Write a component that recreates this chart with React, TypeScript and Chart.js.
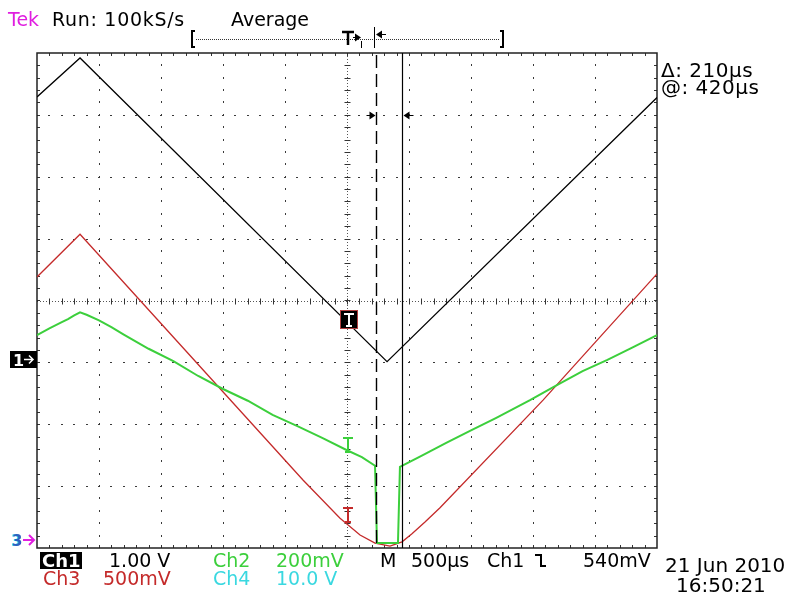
import { useEffect, useRef } from "react";
import { Chart, registerables } from "chart.js";

Chart.register(...registerables);

// Time axis in µs relative to screen centre (500 µs/div, 10 div), vertical in divisions (8 div)
const xMin = -2500;
const xMax = 2500;
const yMin = -4;
const yMax = 4;

// Ch1 (black) triangle wave
const ch1Time = [-2500, -2153, 323, 2500];
const ch1Div = [3.29, 3.92, -0.99, 3.28];

// Ch3 (red)
const ch3Time = [-2500, -2153, -355, -56, 105, 226, 347, 444, 524, 629, 750, 1581, 2500];
const ch3Div = [0.38, 1.07, -2.9, -3.52, -3.79, -3.92, -3.97, -3.9, -3.77, -3.58, -3.35, -1.61, 0.43];

// Ch2 (green, noisy)
const ch2Time = [-2500, -2400, -2300, -2250, -2200, -2153, -2100, -2000, -1900, -1800, -1600, -1400, -1200, -1000, -800, -600, -400, -200, 0, 120, 226, 242, 411, 427, 600, 800, 1000, 1200, 1476, 1700, 1900, 2100, 2300, 2500];
const ch2Div = [-0.56, -0.45, -0.35, -0.3, -0.24, -0.19, -0.23, -0.32, -0.43, -0.55, -0.78, -0.98, -1.22, -1.43, -1.62, -1.85, -2.03, -2.22, -2.42, -2.53, -2.67, -3.92, -3.92, -2.69, -2.51, -2.3, -2.1, -1.9, -1.61, -1.36, -1.14, -0.96, -0.76, -0.56];

// Cursors (µs)
const cursorTimes = [230, 440];

// Texts
const headerTexts = ["Tek", "Run: 100kS/s", "Average"];
const readoutTexts = ["\u0394: 210\u00b5s", "@: 420\u00b5s"];
const chRow1 = ["Ch1", "1.00 V", "Ch2", "200mV", "M", "500\u00b5s", "Ch1", "540mV"];
const chRow2 = ["Ch3", "500mV", "Ch4", "10.0 V"];
const dateTexts = ["21 Jun 2010", "16:50:21"];

const BLACK = "#000000";
const RED = "#c42a2a";
const GREEN = "#3ccf3c";
const CYAN = "#3ad8e0";
const MAGENTA = "#e01ee0";
const FONT = '"DejaVu Sans", sans-serif';

const toPts = (xs: number[], ys: number[]) => xs.map((x, i) => ({ x, y: ys[i] }));

const scopePlugin = {
  id: "scope",
  beforeDatasetsDraw(chart: any) {
    const ctx = chart.ctx as CanvasRenderingContext2D;
    const xs = chart.scales.x;
    const ys = chart.scales.y;
    const L = chart.chartArea.left;
    const R = chart.chartArea.right;
    const T = chart.chartArea.top;
    const B = chart.chartArea.bottom;
    const px = (v: number) => xs.getPixelForValue(v);
    const py = (v: number) => ys.getPixelForValue(v);
    ctx.save();
    ctx.fillStyle = "#3a3a3a";
    for (let t = xMin + 500; t < xMax; t += 500) {
      if (t === 0) continue;
      const x = Math.round(px(t));
      for (let v = yMin; v <= yMax + 1e-6; v += 0.2) {
        const y = Math.round(py(v));
        if (y <= T + 1 || y >= B - 1) continue;
        ctx.fillRect(x, y - 1, 1, 2);
      }
    }
    for (let v = yMin + 1; v < yMax; v += 1) {
      if (v === 0) continue;
      const y = Math.round(py(v));
      for (let t = xMin; t <= xMax; t += 100) {
        const x = Math.round(px(t));
        if (x <= L + 1 || x >= R - 1) continue;
        ctx.fillRect(x - 1, y, 2, 1);
      }
    }
    const cx = Math.round(px(0)) + 0.5;
    const cy = Math.round(py(0)) + 0.5;
    ctx.strokeStyle = "#555";
    ctx.lineWidth = 1;
    ctx.setLineDash([1, 2]);
    ctx.beginPath();
    ctx.moveTo(L, cy);
    ctx.lineTo(R, cy);
    ctx.moveTo(cx, T);
    ctx.lineTo(cx, B);
    ctx.stroke();
    ctx.setLineDash([]);
    ctx.strokeStyle = "#333";
    ctx.beginPath();
    for (let t = xMin + 100; t < xMax; t += 100) {
      const x = Math.round(px(t)) + 0.5;
      ctx.moveTo(x, cy - 3);
      ctx.lineTo(x, cy + 3);
    }
    for (let v = yMin + 0.2; v < yMax - 0.1; v += 0.2) {
      const y = Math.round(py(v)) + 0.5;
      ctx.moveTo(cx - 3, y);
      ctx.lineTo(cx + 3, y);
    }
    for (let t = xMin + 100; t < xMax; t += 100) {
      const x = Math.round(px(t)) + 0.5;
      ctx.moveTo(x, T);
      ctx.lineTo(x, T + 3);
      ctx.moveTo(x, B);
      ctx.lineTo(x, B - 3);
    }
    for (let v = yMin + 0.2; v < yMax - 0.1; v += 0.2) {
      const y = Math.round(py(v)) + 0.5;
      ctx.moveTo(L, y);
      ctx.lineTo(L + 3, y);
      ctx.moveTo(R, y);
      ctx.lineTo(R - 3, y);
    }
    ctx.stroke();
    ctx.strokeStyle = "#222";
    ctx.lineWidth = 1.5;
    ctx.strokeRect(L, T, R - L, B - T);
    ctx.restore();
  },
  afterDatasetsDraw(chart: any) {
    const ctx = chart.ctx as CanvasRenderingContext2D;
    const xs = chart.scales.x;
    const ys = chart.scales.y;
    const T = chart.chartArea.top;
    const B = chart.chartArea.bottom;
    const c0 = Math.round(xs.getPixelForValue(cursorTimes[0])) + 0.5;
    const c1 = Math.round(xs.getPixelForValue(cursorTimes[1])) + 0.5;
    const cx = Math.round(xs.getPixelForValue(0));
    ctx.save();
    ctx.strokeStyle = BLACK;
    ctx.lineWidth = 1.4;
    ctx.setLineDash([13, 6]);
    ctx.beginPath();
    ctx.moveTo(c0, T + 2);
    ctx.lineTo(c0, B);
    ctx.stroke();
    ctx.setLineDash([]);
    ctx.lineWidth = 1.2;
    ctx.beginPath();
    ctx.moveTo(c1, T);
    ctx.lineTo(c1, B);
    ctx.stroke();
    const ay = Math.round(ys.getPixelForValue(3)) + 0.5;
    ctx.lineWidth = 1;
    ctx.fillStyle = BLACK;
    ctx.beginPath();
    ctx.moveTo(c0 - 10, ay);
    ctx.lineTo(c0 - 2, ay);
    ctx.moveTo(c1 + 2, ay);
    ctx.lineTo(c1 + 11, ay);
    ctx.stroke();
    ctx.beginPath();
    ctx.moveTo(c0 - 1, ay);
    ctx.lineTo(c0 - 7, ay - 4);
    ctx.lineTo(c0 - 7, ay + 4);
    ctx.closePath();
    ctx.moveTo(c1 + 1, ay);
    ctx.lineTo(c1 + 7, ay - 4);
    ctx.lineTo(c1 + 7, ay + 4);
    ctx.closePath();
    ctx.fill();

    const drawI = (x: number, y: number, col: string) => {
      ctx.strokeStyle = col;
      ctx.lineWidth = 2;
      ctx.beginPath();
      ctx.moveTo(x - 5, y - 7);
      ctx.lineTo(x + 5, y - 7);
      ctx.moveTo(x, y - 7);
      ctx.lineTo(x, y + 7);
      ctx.moveTo(x - 3, y + 7);
      ctx.lineTo(x + 3, y + 7);
      ctx.stroke();
    };
    drawI(cx + 1, 445, GREEN);
    drawI(cx + 1, 515, RED);
    ctx.fillStyle = BLACK;
    ctx.fillRect(cx - 6, 311, 16, 17);
    ctx.strokeStyle = "#b04040";
    ctx.lineWidth = 1;
    ctx.strokeRect(cx - 6.5, 310.5, 17, 18);
    ctx.strokeStyle = "#ffffff";
    ctx.lineWidth = 2;
    ctx.beginPath();
    ctx.moveTo(cx - 3, 314);
    ctx.lineTo(cx + 7, 314);
    ctx.moveTo(cx + 2, 314);
    ctx.lineTo(cx + 2, 326);
    ctx.moveTo(cx - 1, 326);
    ctx.lineTo(cx + 5, 326);
    ctx.stroke();
    ctx.restore();
  },
  afterDraw(chart: any) {
    const ctx = chart.ctx as CanvasRenderingContext2D;
    ctx.save();
    ctx.textBaseline = "alphabetic";
    ctx.textAlign = "left";
    const txt = (s: string, x: number, y: number, col: string, size = 19, weight = "normal", spacing = "0px") => {
      ctx.font = `${weight} ${size}px ${FONT}`;
      (ctx as any).letterSpacing = spacing;
      ctx.fillStyle = col;
      ctx.fillText(s, x, y);
      (ctx as any).letterSpacing = "0px";
    };
    txt(headerTexts[0], 8, 26, MAGENTA, 19);
    txt(headerTexts[1], 52, 26, BLACK, 19, "normal", "0.7px");
    txt(headerTexts[2], 231, 26, BLACK, 19);
    ctx.strokeStyle = "#333";
    ctx.lineWidth = 1;
    ctx.setLineDash([1, 1]);
    ctx.beginPath();
    ctx.moveTo(196, 39.5);
    ctx.lineTo(500, 39.5);
    ctx.stroke();
    ctx.setLineDash([]);
    ctx.strokeStyle = BLACK;
    ctx.lineWidth = 2;
    ctx.beginPath();
    ctx.moveTo(195, 31);
    ctx.lineTo(192, 31);
    ctx.lineTo(192, 47);
    ctx.lineTo(195, 47);
    ctx.moveTo(500, 31);
    ctx.lineTo(503, 31);
    ctx.lineTo(503, 47);
    ctx.lineTo(500, 47);
    ctx.stroke();
    ctx.lineWidth = 2.5;
    ctx.beginPath();
    ctx.moveTo(342, 32);
    ctx.lineTo(354, 32);
    ctx.moveTo(348, 32);
    ctx.lineTo(348, 45);
    ctx.stroke();
    ctx.lineWidth = 1;
    ctx.beginPath();
    ctx.moveTo(353, 37.5);
    ctx.lineTo(358, 37.5);
    ctx.moveTo(361.5, 41);
    ctx.lineTo(361.5, 48);
    ctx.moveTo(374.5, 27);
    ctx.lineTo(374.5, 48);
    ctx.moveTo(380, 34.5);
    ctx.lineTo(386, 34.5);
    ctx.stroke();
    ctx.fillStyle = BLACK;
    ctx.beginPath();
    ctx.moveTo(361, 37.5);
    ctx.lineTo(355, 33.5);
    ctx.lineTo(355, 41.5);
    ctx.closePath();
    ctx.moveTo(376, 34.5);
    ctx.lineTo(382, 30.5);
    ctx.lineTo(382, 38.5);
    ctx.closePath();
    ctx.fill();
    txt(readoutTexts[0], 661, 77, BLACK, 20, "normal", "0.5px");
    txt(readoutTexts[1], 661, 94, BLACK, 20, "normal", "0.5px");
    ctx.fillStyle = BLACK;
    ctx.fillRect(10, 351, 27, 17);
    txt("1", 13, 366, "#ffffff", 16, "bold");
    ctx.strokeStyle = "#ffffff";
    ctx.lineWidth = 1.5;
    ctx.beginPath();
    ctx.moveTo(24, 359.5);
    ctx.lineTo(33, 359.5);
    ctx.moveTo(29, 355.5);
    ctx.lineTo(33, 359.5);
    ctx.lineTo(29, 363.5);
    ctx.stroke();
    txt("3", 11, 546, CYAN, 15, "bold");
    txt("3", 12, 546, "#3060c0", 15, "bold");
    ctx.strokeStyle = MAGENTA;
    ctx.lineWidth = 2;
    ctx.beginPath();
    ctx.moveTo(23, 540);
    ctx.lineTo(34, 540);
    ctx.moveTo(29, 535);
    ctx.lineTo(34, 540);
    ctx.lineTo(29, 545);
    ctx.stroke();
    ctx.fillStyle = BLACK;
    ctx.fillRect(40, 552, 42, 17);
    txt(chRow1[0], 42, 567, "#ffffff", 18, "bold");
    txt(chRow1[1], 109, 567, BLACK, 19);
    txt(chRow1[2], 213, 567, GREEN, 19);
    txt(chRow1[3], 276, 567, GREEN, 19);
    txt(chRow1[4], 380, 567, BLACK, 19);
    txt(chRow1[5], 411, 567, BLACK, 19);
    txt(chRow1[6], 487, 567, BLACK, 19);
    txt(chRow1[7], 583, 567, BLACK, 19);
    ctx.strokeStyle = BLACK;
    ctx.lineWidth = 2;
    ctx.beginPath();
    ctx.moveTo(535, 555);
    ctx.lineTo(541, 555);
    ctx.lineTo(541, 566);
    ctx.lineTo(546, 566);
    ctx.stroke();
    txt(chRow2[0], 43, 585, RED, 19);
    txt(chRow2[1], 103, 585, RED, 19);
    txt(chRow2[2], 213, 585, CYAN, 19);
    txt(chRow2[3], 276, 585, CYAN, 19);
    txt(dateTexts[0], 665, 572, BLACK, 20);
    txt(dateTexts[1], 676, 592, BLACK, 20);
    ctx.restore();
  },
};

export default function App() {
  const ref = useRef<HTMLCanvasElement | null>(null);
  useEffect(() => {
    document.body.style.margin = "0";
    if (!ref.current) return;
    const chart = new Chart(ref.current, {
      type: "line",
      data: {
        datasets: [
          {
            data: toPts(ch1Time, ch1Div),
            borderColor: BLACK,
            borderWidth: 1.2,
            pointRadius: 0,
            tension: 0,
            order: 0,
          },
          {
            data: toPts(ch2Time, ch2Div),
            borderColor: GREEN,
            borderWidth: 2,
            pointRadius: 0,
            tension: 0,
            order: 1,
          },
          {
            data: toPts(ch3Time, ch3Div),
            borderColor: RED,
            borderWidth: 1.3,
            pointRadius: 0,
            tension: 0,
            order: 2,
          },
        ],
      },
      options: {
        animation: false,
        responsive: false,
        events: [],
        layout: { padding: { left: 37, top: 53, right: 131, bottom: 46 } },
        plugins: { legend: { display: false }, tooltip: { enabled: false } },
        scales: {
          x: { type: "linear", min: xMin, max: xMax, display: false },
          y: { type: "linear", min: yMin, max: yMax, display: false },
        },
      },
      plugins: [scopePlugin],
    });
    return () => chart.destroy();
  }, []);
  return (
    <div style={{ width: 788, height: 594, background: "#fff" }}>
      <canvas ref={ref} width={788} height={594} style={{ display: "block" }} />
    </div>
  );
}
